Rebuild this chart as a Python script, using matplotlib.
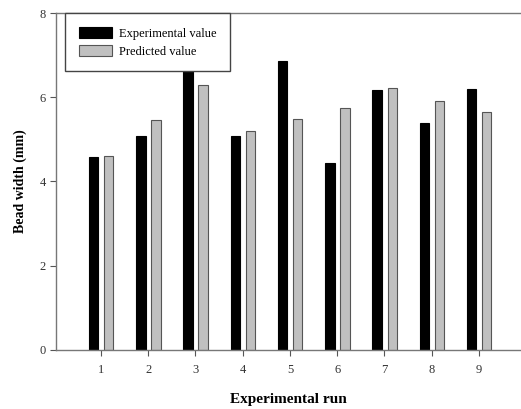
import numpy as np
import matplotlib.pyplot as plt

runs = [1, 2, 3, 4, 5, 6, 7, 8, 9]
experimental = [4.57, 5.08, 7.0, 5.08, 6.87, 4.45, 6.17, 5.39, 6.2]
predicted = [4.61, 5.46, 6.29, 5.2, 5.48, 5.74, 6.22, 5.9, 5.65]

plt.rcParams['font.family'] = ['Liberation Serif', 'DejaVu Serif']

fig = plt.figure(figsize=(5.21, 4.09), dpi=100)
ax = fig.add_axes([0.1075, 0.1443, 0.8925, 0.8239])

x = np.array(runs)
w = 0.2
ax.bar(x - 0.155, experimental, width=w, color='black', edgecolor='black', linewidth=0.8,
       label='Experimental value', zorder=2)
ax.bar(x + 0.165, predicted, width=w, color='#c0c0c0', edgecolor='#555555', linewidth=0.8,
       label='Predicted value', zorder=2)

ax.set_xlim(0.05, 9.89)
ax.set_ylim(0, 8)
ax.set_xticks(runs)
ax.set_yticks([0, 2, 4, 6, 8])
ax.tick_params(axis='both', labelsize=9, color='#555555', length=4, width=0.8, labelcolor='#333333')
ax.tick_params(axis='x', pad=6)

for s in ['left', 'bottom', 'top']:
    ax.spines[s].set_color('#777777')
    ax.spines[s].set_linewidth(1)
ax.spines['right'].set_visible(False)

ax.set_xlabel('Experimental run', fontsize=11, fontweight='bold', labelpad=12)
ax.set_ylabel('Bead width (mm)', fontsize=10, fontweight='bold', labelpad=9)

leg = ax.legend(loc='upper left', bbox_to_anchor=(0.02, 1.0), fontsize=9, frameon=True,
                fancybox=False, edgecolor='#444444', facecolor='white', framealpha=1,
                handlelength=2.6, handleheight=1.0, borderpad=1.1, labelspacing=0.4,
                handletextpad=0.6, borderaxespad=0)
leg.get_frame().set_linewidth(1)
leg.set_zorder(5)

fig.savefig('out.png', dpi=100)
